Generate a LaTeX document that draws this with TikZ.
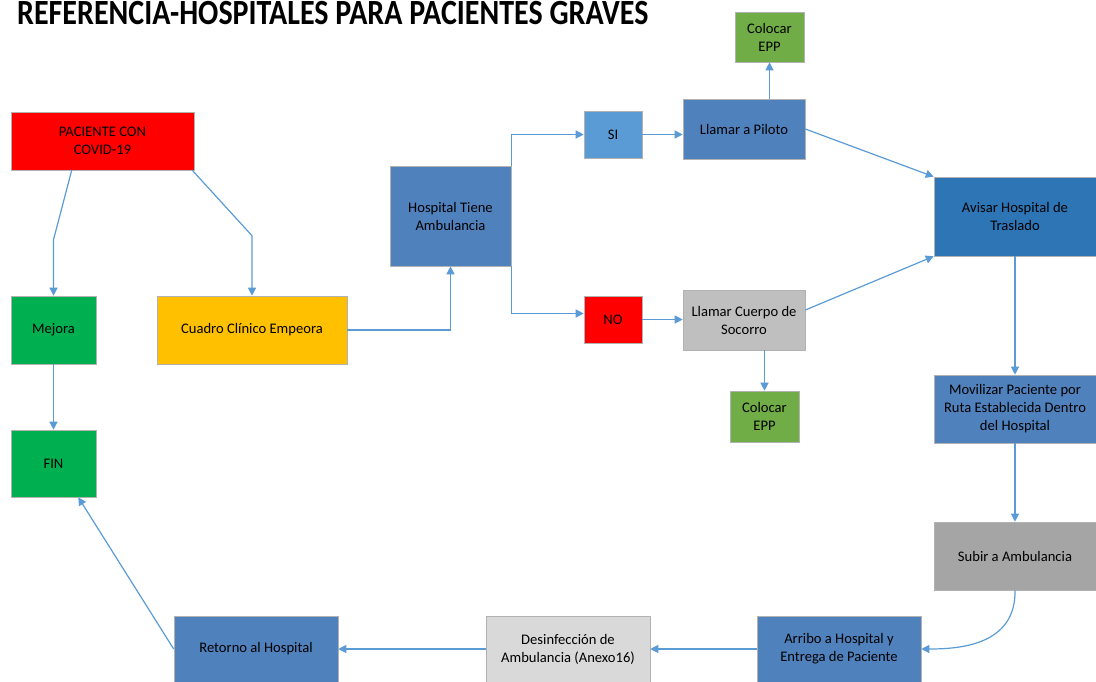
\documentclass[tikz,border=0pt]{standalone}
\usepackage{fontspec}
\setmainfont{Carlito}
\usetikzlibrary{arrows.meta}
\definecolor{cRed}{HTML}{FF0000}
\definecolor{cGreen}{HTML}{00B050}
\definecolor{cAmber}{HTML}{FFC000}
\definecolor{cSteel}{HTML}{4F81BD}
\definecolor{cSky}{HTML}{5B9BD5}
\definecolor{cDeep}{HTML}{2E75B6}
\definecolor{cLeaf}{HTML}{70AD47}
\definecolor{cGrayA}{HTML}{BFBFBF}
\definecolor{cGrayB}{HTML}{A5A5A5}
\definecolor{cGrayC}{HTML}{D9D9D9}
\definecolor{cLine}{HTML}{5B9BD5}
\tikzset{
  box/.style={draw=white!70!black, line width=0.6pt, inner sep=1pt, align=center,
    font=\fontsize{14.6}{18}\selectfont, text=black},
  conn/.style={draw=cLine, line width=1.2pt, -{Triangle[width=8pt,length=8pt]}},
  plain/.style={draw=cLine, line width=1.2pt}
}
\begin{document}
\begin{tikzpicture}[x=1pt,y=-1pt]
\useasboundingbox (0,0) rectangle (1096,681);
\begin{scope}
\clip (0,0) rectangle (1096,681);
\node[anchor=west, inner sep=0, font=\bfseries\fontsize{30}{33}\selectfont] (title) at (17,13) {\scalebox{1}[1.18]{REFERENCIA-HOSPITALES PARA PACIENTES GRAVES}};
\end{scope}

\node[box, fill=cRed, minimum width=183pt, minimum height=58pt] (pac) at (102.5,141) {PACIENTE CON\\COVID-19};
\node[box, fill=cGreen, minimum width=85pt, minimum height=68pt] (mej) at (53.5,330) {Mejora};
\node[box, fill=cAmber, minimum width=190pt, minimum height=68pt] (cua) at (252,330) {Cuadro Clínico Empeora};
\node[box, fill=cGreen, minimum width=85pt, minimum height=67pt] (fin) at (53.5,463.5) {FIN};
\node[box, fill=cSteel, minimum width=121pt, minimum height=100pt] (hos) at (450.5,216) {Hospital Tiene\\Ambulancia};
\node[box, fill=cSky, minimum width=58pt, minimum height=47pt] (si) at (613,134.5) {SI};
\node[box, fill=cRed, minimum width=58pt, minimum height=47pt] (no) at (613,319.5) {NO};
\node[box, fill=cSteel, minimum width=122pt, minimum height=60pt] (pil) at (744,129) {Llamar a Piloto};
\node[box, fill=cLeaf, minimum width=69pt, minimum height=50pt] (eppa) at (769.5,37) {Colocar\\EPP};
\node[box, fill=cGrayA, minimum width=122pt, minimum height=60pt] (cue) at (744,320) {Llamar Cuerpo de\\Socorro};
\node[box, fill=cLeaf, minimum width=69pt, minimum height=51pt] (eppb) at (764.5,416.5) {Colocar\\EPP};
\node[box, fill=cDeep, minimum width=162pt, minimum height=79pt] (avi) at (1015,216.5) {Avisar Hospital de\\Traslado};
\node[box, fill=cSteel, minimum width=162pt, minimum height=68pt] (mov) at (1015,409) {Movilizar Paciente por\\Ruta Establecida Dentro\\del Hospital};
\node[box, fill=cGrayB, minimum width=162pt, minimum height=68pt] (sub) at (1015,556) {Subir a Ambulancia};
\node[box, fill=cSteel, minimum width=164pt, minimum height=66pt] (arr) at (839,649) {Arribo a Hospital y\\Entrega de Paciente};
\node[box, fill=cGrayC, minimum width=164pt, minimum height=66pt] (des) at (568,649) {Desinfección de\\Ambulancia (Anexo16)};
\node[box, fill=cSteel, minimum width=164pt, minimum height=66pt] (ret) at (256,649) {Retorno al Hospital};

\draw[conn] ([xshift=61pt]pac.south west) -- ([yshift=56pt]mej.north) -- (mej.north);
\draw[conn] ([xshift=-2pt]pac.south east) -- ([yshift=60pt]cua.north) -- (cua.north);
\draw[conn] (mej.south) -- (fin.north);
\draw[conn] (cua.east) -| (hos.south);
\draw[conn] (hos.north east) |- (si.west);
\draw[conn] (hos.south east) |- ([yshift=6pt]no.west);
\draw[conn] (si.east) -- (si.east -| pil.west);
\draw[conn] (no.east) -- (no.east -| cue.west);
\draw[conn] (eppa.south |- pil.north) -- (eppa.south);
\draw[conn] (pil.east) -- (avi.north west);
\draw[conn] ([yshift=10pt]cue.east) -- (avi.south west);
\draw[conn] (eppb.north |- cue.south) -- (eppb.north);
\draw[conn] (avi.south) -- (mov.north);
\draw[conn] (mov.south) -- (sub.north);
\draw[conn] (sub.south) .. controls (1016,645) and (960,649) .. (arr.east);
\draw[conn] (arr.west) -- (des.east);
\draw[conn] (des.west) -- (ret.east);
\draw[conn] (ret.west) -- ([xshift=-18pt]fin.south east);
\end{tikzpicture}
\end{document}
